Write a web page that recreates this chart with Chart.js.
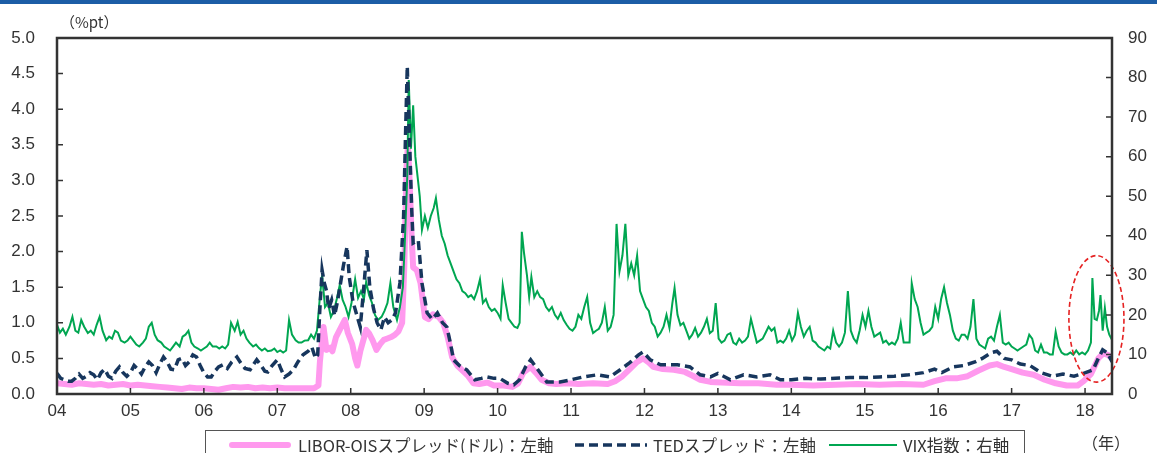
<!DOCTYPE html>
<html lang="ja">
<head>
<meta charset="utf-8">
<script src="https://cdn.jsdelivr.net/npm/chart.js@4.4.0/dist/chart.umd.min.js"></script>
<style>
  html, body { margin: 0; padding: 0; background: #fff; overflow: hidden; }
  #wrap { position: relative; width: 1157px; height: 453px; }
  #topbar { position: absolute; left: 0; top: 0; width: 1157px; height: 4px; background: #1c5da6; }
  #chart { position: absolute; left: 0; top: 0; }
  .note { position: absolute; font-family: "Noto Sans CJK JP", sans-serif; font-size: 15px; color: #333; line-height: 1; }
  #legend {
    position: absolute; left: 205px; top: 430px; width: 820px; height: 40px;
    border: 1px solid #555; box-sizing: border-box;
    font-family: "Noto Sans CJK JP", sans-serif; font-size: 16.5px; color: #333;
  }
  #legend .item { position: absolute; top: 3px; display: flex; align-items: center; height: 22px; white-space: nowrap; }
  #legend svg { margin-right: 6px; }
</style>
</head>
<body>
<div id="wrap">
  <canvas id="chart" width="1157" height="453"></canvas>
  <div id="topbar"></div>
  <div class="note" style="left:60px; top:14px;">（%pt）</div>
  <div class="note" style="left:1082px; top:434px; font-size:16px;">（年）</div>
  <div id="legend"></div>
</div>
<script>
// 年（小数）と値の組
const liborOisPoints = [
  [2004.00, 0.15], [2004.10, 0.14], [2004.20, 0.13], [2004.30, 0.15], [2004.40, 0.14], [2004.50, 0.13],
  [2004.60, 0.14], [2004.70, 0.12], [2004.80, 0.13], [2004.90, 0.14], [2005.00, 0.12], [2005.10, 0.13],
  [2005.20, 0.12], [2005.30, 0.11], [2005.40, 0.10], [2005.50, 0.09], [2005.60, 0.08], [2005.70, 0.07],
  [2005.80, 0.09], [2005.90, 0.08], [2006.00, 0.08], [2006.10, 0.07], [2006.20, 0.06], [2006.30, 0.08],
  [2006.40, 0.10], [2006.50, 0.09], [2006.60, 0.10], [2006.70, 0.08], [2006.80, 0.09], [2006.90, 0.08],
  [2007.00, 0.09], [2007.10, 0.08], [2007.20, 0.08], [2007.30, 0.08], [2007.40, 0.08], [2007.50, 0.08],
  [2007.56, 0.12], [2007.58, 0.45], [2007.60, 0.66], [2007.63, 0.94], [2007.67, 0.62], [2007.72, 0.65],
  [2007.75, 0.60], [2007.80, 0.80], [2007.85, 0.90], [2007.92, 1.04], [2007.96, 0.86], [2008.02, 0.70],
  [2008.06, 0.50], [2008.09, 0.40], [2008.13, 0.60], [2008.17, 0.75], [2008.21, 0.90], [2008.25, 0.85],
  [2008.30, 0.75], [2008.35, 0.62], [2008.40, 0.70], [2008.45, 0.76], [2008.50, 0.78], [2008.55, 0.80],
  [2008.60, 0.83], [2008.65, 0.88], [2008.70, 1.00], [2008.73, 1.80], [2008.76, 3.20], [2008.78, 3.50],
  [2008.80, 3.05], [2008.83, 2.20], [2008.85, 1.78], [2008.90, 1.74], [2008.95, 1.56], [2009.01, 1.08],
  [2009.06, 1.05], [2009.12, 1.12], [2009.20, 1.08], [2009.26, 1.00], [2009.32, 0.80], [2009.38, 0.52],
  [2009.45, 0.40], [2009.53, 0.32], [2009.60, 0.25], [2009.67, 0.15], [2009.75, 0.14], [2009.86, 0.16],
  [2009.95, 0.12], [2010.08, 0.12], [2010.20, 0.10], [2010.28, 0.15], [2010.35, 0.30], [2010.45, 0.38],
  [2010.52, 0.30], [2010.60, 0.20], [2010.70, 0.15], [2010.80, 0.14], [2010.95, 0.15], [2011.10, 0.14],
  [2011.30, 0.15], [2011.50, 0.14], [2011.60, 0.18], [2011.70, 0.25], [2011.80, 0.35], [2011.90, 0.45],
  [2011.98, 0.50], [2012.05, 0.45], [2012.12, 0.38], [2012.25, 0.35], [2012.40, 0.34], [2012.55, 0.31],
  [2012.65, 0.26], [2012.76, 0.20], [2012.90, 0.17], [2013.05, 0.16], [2013.30, 0.15], [2013.55, 0.15],
  [2013.80, 0.13], [2014.00, 0.13], [2014.30, 0.12], [2014.60, 0.13], [2014.90, 0.14], [2015.20, 0.13],
  [2015.50, 0.14], [2015.80, 0.13], [2015.95, 0.18], [2016.10, 0.22], [2016.25, 0.22], [2016.40, 0.25],
  [2016.55, 0.33], [2016.70, 0.40], [2016.80, 0.42], [2016.90, 0.38], [2017.00, 0.35], [2017.15, 0.30],
  [2017.30, 0.27], [2017.45, 0.20], [2017.60, 0.15], [2017.75, 0.12], [2017.90, 0.12], [2017.98, 0.18],
  [2018.08, 0.28], [2018.18, 0.50], [2018.25, 0.57], [2018.31, 0.55], [2018.37, 0.50]
];

const tedPoints = [
  [2004.00, 0.29], [2004.05, 0.22], [2004.10, 0.20], [2004.15, 0.18], [2004.20, 0.18], [2004.25, 0.22],
  [2004.30, 0.28], [2004.35, 0.22], [2004.40, 0.25], [2004.45, 0.30], [2004.50, 0.27], [2004.55, 0.20],
  [2004.60, 0.30], [2004.65, 0.35], [2004.70, 0.25], [2004.75, 0.22], [2004.80, 0.32], [2004.85, 0.38],
  [2004.90, 0.30], [2004.95, 0.25], [2005.00, 0.30], [2005.05, 0.40], [2005.10, 0.35], [2005.15, 0.28],
  [2005.20, 0.38], [2005.25, 0.45], [2005.30, 0.40], [2005.35, 0.30], [2005.40, 0.42], [2005.45, 0.52],
  [2005.50, 0.45], [2005.55, 0.35], [2005.60, 0.34], [2005.65, 0.48], [2005.70, 0.50], [2005.75, 0.40],
  [2005.80, 0.45], [2005.85, 0.55], [2005.90, 0.52], [2005.95, 0.40], [2006.00, 0.30], [2006.05, 0.24],
  [2006.10, 0.24], [2006.15, 0.32], [2006.20, 0.38], [2006.26, 0.41], [2006.32, 0.36], [2006.38, 0.45],
  [2006.45, 0.52], [2006.50, 0.44], [2006.56, 0.36], [2006.63, 0.34], [2006.68, 0.42], [2006.72, 0.48],
  [2006.78, 0.40], [2006.83, 0.32], [2006.87, 0.31], [2006.93, 0.40], [2007.00, 0.48], [2007.05, 0.35],
  [2007.10, 0.24], [2007.16, 0.28], [2007.22, 0.34], [2007.28, 0.45], [2007.35, 0.55], [2007.42, 0.60],
  [2007.47, 0.66], [2007.52, 0.50], [2007.55, 0.55], [2007.58, 1.20], [2007.61, 1.74], [2007.64, 1.56],
  [2007.67, 1.45], [2007.70, 1.20], [2007.74, 1.32], [2007.78, 1.10], [2007.82, 1.30], [2007.86, 1.55],
  [2007.90, 1.80], [2007.95, 2.07], [2007.98, 1.64], [2008.03, 1.30], [2008.09, 1.08], [2008.13, 0.94],
  [2008.17, 1.40], [2008.22, 2.02], [2008.26, 1.50], [2008.31, 1.20], [2008.36, 1.00], [2008.41, 0.90],
  [2008.46, 1.08], [2008.51, 1.00], [2008.56, 1.04], [2008.61, 1.14], [2008.67, 1.56], [2008.72, 2.50],
  [2008.75, 3.80], [2008.77, 4.60], [2008.80, 3.60], [2008.83, 2.60], [2008.85, 2.12], [2008.92, 2.16],
  [2008.97, 1.56], [2009.04, 1.14], [2009.11, 1.05], [2009.18, 1.14], [2009.25, 1.00], [2009.31, 0.94],
  [2009.36, 0.70], [2009.40, 0.48], [2009.48, 0.40], [2009.58, 0.34], [2009.69, 0.20], [2009.78, 0.22],
  [2009.86, 0.24], [2009.95, 0.22], [2010.03, 0.22], [2010.14, 0.15], [2010.22, 0.13], [2010.30, 0.20],
  [2010.38, 0.38], [2010.45, 0.48], [2010.55, 0.34], [2010.67, 0.17], [2010.85, 0.17], [2011.00, 0.20],
  [2011.17, 0.24], [2011.36, 0.27], [2011.53, 0.24], [2011.67, 0.34], [2011.80, 0.44], [2011.92, 0.55],
  [2011.98, 0.59], [2012.08, 0.48], [2012.22, 0.41], [2012.45, 0.41], [2012.62, 0.38], [2012.76, 0.27],
  [2012.90, 0.24], [2013.00, 0.29], [2013.17, 0.20], [2013.35, 0.27], [2013.53, 0.24], [2013.71, 0.27],
  [2013.85, 0.20], [2014.00, 0.20], [2014.20, 0.22], [2014.40, 0.21], [2014.60, 0.22], [2014.80, 0.23],
  [2015.00, 0.23], [2015.20, 0.24], [2015.40, 0.25], [2015.60, 0.27], [2015.80, 0.30], [2015.95, 0.35],
  [2016.05, 0.30], [2016.20, 0.38], [2016.35, 0.40], [2016.50, 0.45], [2016.60, 0.50], [2016.72, 0.58],
  [2016.80, 0.60], [2016.90, 0.50], [2017.00, 0.48], [2017.12, 0.42], [2017.25, 0.40], [2017.40, 0.30],
  [2017.55, 0.25], [2017.70, 0.28], [2017.85, 0.25], [2017.98, 0.29], [2018.11, 0.34], [2018.18, 0.50],
  [2018.24, 0.62], [2018.30, 0.58], [2018.37, 0.45]
];

const vixPoints = [
  [2004.00, 17.5], [2004.04, 15.5], [2004.08, 16.5], [2004.12, 15.0], [2004.17, 17.0], [2004.21, 19.5],
  [2004.25, 16.0], [2004.29, 15.5], [2004.33, 18.7], [2004.37, 17.0], [2004.42, 15.4], [2004.46, 16.0],
  [2004.50, 15.0], [2004.54, 17.5], [2004.58, 19.5], [2004.62, 16.0], [2004.67, 13.6], [2004.71, 14.5],
  [2004.75, 14.0], [2004.79, 16.0], [2004.83, 15.5], [2004.87, 13.5], [2004.92, 13.0], [2004.96, 13.5],
  [2005.00, 14.5], [2005.04, 13.5], [2005.08, 12.5], [2005.12, 12.0], [2005.17, 13.0], [2005.21, 14.0],
  [2005.25, 17.0], [2005.29, 18.0], [2005.33, 15.0], [2005.37, 13.6], [2005.42, 13.0], [2005.46, 12.0],
  [2005.50, 11.5], [2005.54, 11.0], [2005.58, 12.0], [2005.62, 13.0], [2005.67, 12.0], [2005.71, 14.5],
  [2005.75, 15.0], [2005.79, 16.0], [2005.83, 13.0], [2005.87, 12.0], [2005.92, 11.5], [2005.96, 11.0],
  [2006.00, 11.5], [2006.04, 12.0], [2006.08, 13.0], [2006.12, 12.0], [2006.17, 12.0], [2006.21, 11.5],
  [2006.25, 12.0], [2006.29, 11.5], [2006.33, 12.5], [2006.37, 18.0], [2006.42, 16.0], [2006.46, 18.2],
  [2006.50, 15.0], [2006.54, 16.0], [2006.58, 14.0], [2006.62, 13.0], [2006.67, 12.0], [2006.71, 12.5],
  [2006.75, 11.6], [2006.79, 11.0], [2006.83, 11.5], [2006.87, 10.8], [2006.92, 11.0], [2006.96, 11.5],
  [2007.00, 10.6], [2007.04, 11.0], [2007.08, 10.5], [2007.12, 11.0], [2007.16, 18.7], [2007.20, 15.0],
  [2007.25, 13.6], [2007.29, 13.0], [2007.33, 13.0], [2007.37, 13.5], [2007.42, 13.6], [2007.46, 15.0],
  [2007.50, 14.0], [2007.54, 16.0], [2007.58, 24.5], [2007.61, 30.0], [2007.65, 22.0], [2007.69, 23.0],
  [2007.73, 19.5], [2007.77, 21.0], [2007.81, 24.0], [2007.85, 27.5], [2007.89, 23.8], [2007.93, 22.0],
  [2007.97, 19.5], [2008.01, 23.0], [2008.06, 29.0], [2008.10, 24.3], [2008.14, 26.0], [2008.18, 24.0],
  [2008.21, 28.3], [2008.25, 25.0], [2008.29, 23.0], [2008.33, 20.0], [2008.37, 18.7], [2008.42, 19.5],
  [2008.46, 21.0], [2008.50, 23.0], [2008.54, 28.0], [2008.58, 22.0], [2008.63, 18.7], [2008.67, 22.0],
  [2008.71, 27.0], [2008.74, 40.0], [2008.77, 55.0], [2008.79, 79.4], [2008.82, 62.0], [2008.85, 73.0],
  [2008.88, 60.0], [2008.91, 55.0], [2008.94, 50.0], [2008.97, 41.5], [2009.01, 45.0], [2009.05, 42.0],
  [2009.09, 45.0], [2009.13, 47.0], [2009.16, 49.5], [2009.20, 44.0], [2009.24, 40.0], [2009.28, 38.0],
  [2009.32, 35.0], [2009.36, 33.0], [2009.40, 31.0], [2009.44, 29.0], [2009.48, 28.0], [2009.52, 26.0],
  [2009.56, 25.5], [2009.60, 24.5], [2009.64, 25.0], [2009.68, 24.0], [2009.72, 26.0], [2009.76, 29.0],
  [2009.80, 23.0], [2009.84, 24.0], [2009.88, 22.0], [2009.92, 21.0], [2009.96, 21.5], [2010.00, 20.5],
  [2010.04, 19.0], [2010.07, 27.5], [2010.11, 23.0], [2010.15, 19.0], [2010.19, 18.0], [2010.23, 17.0],
  [2010.27, 16.7], [2010.30, 18.0], [2010.33, 41.0], [2010.36, 35.6], [2010.40, 30.0], [2010.43, 24.5],
  [2010.46, 29.6], [2010.50, 24.5], [2010.54, 26.0], [2010.58, 24.5], [2010.62, 24.0], [2010.66, 22.0],
  [2010.70, 21.0], [2010.74, 22.0], [2010.78, 20.0], [2010.82, 19.0], [2010.86, 20.5], [2010.90, 18.7],
  [2010.94, 17.5], [2010.98, 16.5], [2011.02, 16.0], [2011.06, 17.0], [2011.10, 20.0], [2011.14, 19.0],
  [2011.18, 22.0], [2011.22, 24.5], [2011.26, 18.0], [2011.30, 15.4], [2011.34, 16.0], [2011.38, 16.5],
  [2011.42, 18.0], [2011.46, 22.0], [2011.50, 16.0], [2011.54, 17.0], [2011.58, 20.0], [2011.62, 43.0],
  [2011.66, 31.0], [2011.70, 35.0], [2011.74, 43.0], [2011.78, 30.0], [2011.82, 33.0], [2011.86, 30.0],
  [2011.90, 35.0], [2011.94, 26.0], [2011.98, 24.0], [2012.02, 22.0], [2012.06, 21.0], [2012.10, 18.0],
  [2012.14, 17.0], [2012.18, 14.5], [2012.22, 15.5], [2012.26, 17.0], [2012.30, 20.0], [2012.34, 16.7],
  [2012.38, 23.0], [2012.41, 26.8], [2012.45, 20.0], [2012.49, 17.4], [2012.53, 18.0], [2012.57, 16.0],
  [2012.61, 14.0], [2012.65, 15.0], [2012.69, 16.7], [2012.73, 14.5], [2012.77, 15.5], [2012.81, 17.0],
  [2012.85, 19.0], [2012.89, 15.4], [2012.93, 16.0], [2012.97, 23.0], [2013.01, 14.0], [2013.05, 13.0],
  [2013.09, 13.5], [2013.13, 15.0], [2013.17, 15.4], [2013.21, 13.0], [2013.25, 12.5], [2013.29, 14.0],
  [2013.33, 13.0], [2013.37, 13.5], [2013.41, 14.5], [2013.45, 19.0], [2013.49, 16.0], [2013.53, 13.0],
  [2013.57, 13.5], [2013.61, 14.0], [2013.65, 15.5], [2013.69, 17.0], [2013.73, 16.0], [2013.77, 16.7],
  [2013.81, 13.0], [2013.85, 13.5], [2013.89, 13.0], [2013.93, 14.0], [2013.97, 16.0], [2014.01, 13.5],
  [2014.05, 15.0], [2014.09, 20.5], [2014.13, 17.0], [2014.17, 14.5], [2014.21, 16.0], [2014.25, 17.0],
  [2014.29, 13.5], [2014.33, 13.0], [2014.37, 12.0], [2014.41, 11.5], [2014.45, 11.0], [2014.49, 12.0],
  [2014.53, 11.5], [2014.57, 16.0], [2014.61, 13.0], [2014.65, 12.0], [2014.69, 13.0], [2014.73, 15.5],
  [2014.77, 26.0], [2014.81, 16.0], [2014.85, 14.0], [2014.89, 13.0], [2014.93, 16.0], [2014.97, 20.0],
  [2015.01, 17.0], [2015.05, 21.0], [2015.09, 17.0], [2015.13, 14.5], [2015.17, 15.0], [2015.21, 15.5],
  [2015.25, 13.0], [2015.29, 13.5], [2015.33, 12.5], [2015.37, 13.0], [2015.41, 12.5], [2015.45, 14.0],
  [2015.49, 18.0], [2015.53, 13.0], [2015.57, 13.0], [2015.61, 13.0], [2015.64, 28.0], [2015.68, 24.0],
  [2015.72, 22.0], [2015.76, 18.0], [2015.80, 15.0], [2015.84, 15.5], [2015.88, 16.0], [2015.92, 17.0],
  [2015.96, 22.0], [2016.00, 19.0], [2016.04, 24.0], [2016.08, 27.0], [2016.12, 23.0], [2016.16, 20.0],
  [2016.20, 16.0], [2016.24, 14.0], [2016.28, 13.5], [2016.32, 15.0], [2016.36, 15.0], [2016.40, 14.0],
  [2016.44, 17.0], [2016.48, 24.0], [2016.52, 14.0], [2016.56, 12.5], [2016.60, 12.0], [2016.64, 11.5],
  [2016.68, 14.0], [2016.72, 14.5], [2016.76, 13.5], [2016.80, 17.0], [2016.84, 20.0], [2016.88, 13.0],
  [2016.92, 12.5], [2016.96, 13.0], [2017.00, 12.0], [2017.04, 11.5], [2017.08, 11.0], [2017.12, 11.5],
  [2017.16, 12.0], [2017.20, 12.5], [2017.24, 15.0], [2017.28, 14.0], [2017.32, 11.0], [2017.36, 10.5],
  [2017.40, 12.5], [2017.44, 10.5], [2017.48, 10.5], [2017.52, 10.0], [2017.56, 10.0], [2017.60, 15.7],
  [2017.64, 12.0], [2017.68, 10.5], [2017.72, 10.0], [2017.76, 10.0], [2017.80, 10.5], [2017.84, 9.9],
  [2017.88, 11.0], [2017.92, 10.0], [2017.96, 10.5], [2018.00, 10.0], [2018.04, 11.0], [2018.08, 13.0],
  [2018.10, 29.3], [2018.13, 19.0], [2018.16, 18.7], [2018.19, 21.0], [2018.21, 25.0], [2018.24, 16.0],
  [2018.27, 21.7], [2018.30, 17.0], [2018.33, 15.0], [2018.37, 13.6]
];

const yearTicks = [2004, 2005, 2006, 2007, 2008, 2009, 2010, 2011, 2012, 2013, 2014, 2015, 2016, 2017, 2018];
const leftTicks = [0, 0.5, 1, 1.5, 2, 2.5, 3, 3.5, 4, 4.5, 5];
const rightTicks = [0, 10, 20, 30, 40, 50, 60, 70, 80, 90];

const seriesNames = ['LIBOR-OISスプレッド(ドル)：左軸', 'TEDスプレッド：左軸', 'VIX指数：右軸'];
const seriesColors = ['#ff99ee', '#17365d', '#00a651'];

// 2018年初の囲み（x：年、y：VIX目盛）
const highlightX = [2017.78, 2018.53];
const highlightY = [3, 35];

const toXY = pts => pts.map(p => ({ x: p[0], y: p[1] }));

// 枠線・内向きの目盛・囲み
const frameTicks = {
  id: 'frameTicks',
  afterDatasetsDraw(chart) {
    const { ctx, chartArea: a, scales } = chart;
    ctx.save();

    const x0 = scales.x.getPixelForValue(highlightX[0]);
    const x1 = scales.x.getPixelForValue(highlightX[1]);
    const y0 = scales.y1.getPixelForValue(highlightY[1]);
    const y1 = scales.y1.getPixelForValue(highlightY[0]);
    ctx.beginPath();
    ctx.ellipse((x0 + x1) / 2, (y0 + y1) / 2, (x1 - x0) / 2, (y1 - y0) / 2, 0, 0, Math.PI * 2);
    ctx.strokeStyle = '#e52222';
    ctx.lineWidth = 1.6;
    ctx.setLineDash([5, 3]);
    ctx.stroke();
    ctx.setLineDash([]);

    ctx.strokeStyle = '#333';
    ctx.lineWidth = 1.5;
    ctx.beginPath();
    leftTicks.forEach(v => {
      const y = scales.y.getPixelForValue(v);
      ctx.moveTo(a.left, y); ctx.lineTo(a.left + 6, y);
    });
    rightTicks.forEach(v => {
      const y = scales.y1.getPixelForValue(v);
      ctx.moveTo(a.right, y); ctx.lineTo(a.right - 6, y);
    });
    yearTicks.forEach(v => {
      const x = scales.x.getPixelForValue(v);
      ctx.moveTo(x, a.bottom); ctx.lineTo(x, a.bottom - 6);
    });
    ctx.stroke();

    ctx.lineWidth = 2.5;
    ctx.strokeRect(a.left, a.top, a.right - a.left, a.bottom - a.top);
    ctx.restore();
  }
};

Chart.defaults.font.family = '"Liberation Sans", Arial, sans-serif';
Chart.defaults.color = '#333';

new Chart(document.getElementById('chart'), {
  type: 'line',
  data: {
    datasets: [
      {
        label: seriesNames[0],
        data: toXY(liborOisPoints),
        yAxisID: 'y',
        borderColor: seriesColors[0],
        borderWidth: 6,
        borderJoinStyle: 'round',
        borderCapStyle: 'round',
        pointRadius: 0,
        order: 3
      },
      {
        label: seriesNames[1],
        data: toXY(tedPoints),
        yAxisID: 'y',
        borderColor: seriesColors[1],
        borderWidth: 3.5,
        borderDash: [9, 5],
        pointRadius: 0,
        order: 1
      },
      {
        label: seriesNames[2],
        data: toXY(vixPoints),
        yAxisID: 'y1',
        borderColor: seriesColors[2],
        borderWidth: 2,
        pointRadius: 0,
        order: 2
      }
    ]
  },
  options: {
    responsive: false,
    animation: false,
    layout: { padding: { top: 38, left: 0, right: 0, bottom: 0 } },
    plugins: {
      legend: { display: false },
      tooltip: { enabled: false }
    },
    scales: {
      x: {
        type: 'linear',
        min: 2004,
        max: 2018.367,
        afterBuildTicks: s => { s.ticks = yearTicks.map(v => ({ value: v })); },
        afterFit: s => { s.height = 59; },
        grid: { display: false, drawTicks: false },
        border: { display: false },
        ticks: {
          padding: 7,
          maxRotation: 0,
          autoSkip: false,
          font: { size: 17 },
          callback: v => String(v).slice(2)
        }
      },
      y: {
        position: 'left',
        min: 0,
        max: 5,
        afterBuildTicks: s => { s.ticks = leftTicks.map(v => ({ value: v })); },
        afterFit: s => { s.width = 57; },
        grid: { display: false, drawTicks: false },
        border: { display: false },
        ticks: { padding: 22, font: { size: 17 }, callback: v => v.toFixed(1) }
      },
      y1: {
        position: 'right',
        min: 0,
        max: 90,
        afterBuildTicks: s => { s.ticks = rightTicks.map(v => ({ value: v })); },
        afterFit: s => { s.width = 45; },
        grid: { display: false, drawTicks: false },
        border: { display: false },
        ticks: { padding: 16, font: { size: 17 } }
      }
    }
  },
  plugins: [frameTicks]
});

// 凡例（枠付き）
const legendEl = document.getElementById('legend');
const legendLeft = [22, 369, 623];
const swatchWidth = [64, 72, 68];
seriesNames.forEach((name, i) => {
  const w = swatchWidth[i];
  let line;
  if (i === 0) {
    line = `<line x1="4" y1="11" x2="${w - 4}" y2="11" stroke="${seriesColors[0]}" stroke-width="6" stroke-linecap="round"/>`;
  } else if (i === 1) {
    line = `<line x1="0" y1="11" x2="${w}" y2="11" stroke="${seriesColors[1]}" stroke-width="3.5" stroke-dasharray="9 5"/>`;
  } else {
    line = `<line x1="0" y1="11" x2="${w}" y2="11" stroke="${seriesColors[2]}" stroke-width="2"/>`;
  }
  const item = document.createElement('div');
  item.className = 'item';
  item.style.left = legendLeft[i] + 'px';
  item.innerHTML = `<svg width="${w}" height="22">${line}</svg><span>${name}</span>`;
  legendEl.appendChild(item);
});
</script>
</body>
</html>
